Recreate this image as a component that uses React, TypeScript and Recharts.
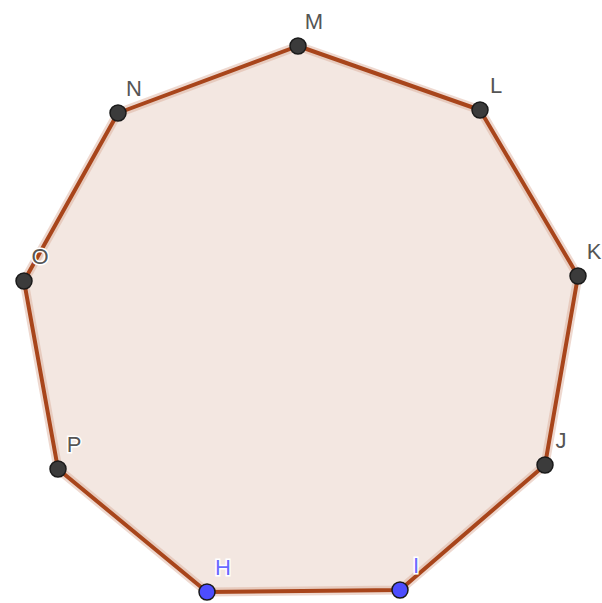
import React from 'react';
import { ScatterChart, Scatter, XAxis, YAxis } from 'recharts';

const names = ['H', 'I', 'J', 'K', 'L', 'M', 'N', 'O', 'P'];
const xs = [207, 400, 545, 578, 480, 298, 118, 24, 58];
const ys = [592, 590, 465, 276, 110, 46, 113, 281, 469];
const freePoints = ['H', 'I'];

const vertices = names.map((name, i) => ({ name, x: xs[i], y: ys[i] }));
const outline = [...vertices, vertices[0]];
const bluePts = vertices.filter((v) => freePoints.includes(v.name));
const darkPts = vertices.filter((v) => !freePoints.includes(v.name));

const Empty = () => <g />;

const makeShape = (fill: string, labelColor: string) => (props: any) => {
  const { cx, cy, payload } = props;
  return (
    <g>
      <circle cx={cx} cy={cy} r={8} fill={fill} stroke="#1a1a1a" strokeWidth={1.5} />
      <text
        x={cx + 16}
        y={cy - 25}
        textAnchor="middle"
        dominantBaseline="central"
        fontFamily="Liberation Sans, Arial, sans-serif"
        fontSize={22}
        fill={labelColor}
        stroke="#fff"
        strokeWidth={3}
        paintOrder="stroke"
      >
        {payload.name}
      </text>
    </g>
  );
};

const App: React.FC = () => {
  return (
    <div style={{ position: 'absolute', left: 0, top: 0 }}>
      <ScatterChart width={602} height={603} margin={{ top: 0, right: 0, bottom: 0, left: 0 }}>
        <XAxis type="number" dataKey="x" domain={[0, 602]} hide />
        <YAxis type="number" dataKey="y" domain={[0, 603]} reversed hide />
        <Scatter
          data={outline}
          line={{ stroke: '#d9a994', strokeWidth: 9, strokeOpacity: 0.45, fill: '#f3e7e1' }}
          shape={Empty}
          isAnimationActive={false}
        />
        <Scatter
          data={outline}
          line={{ stroke: '#a8451b', strokeWidth: 4, fill: 'none', strokeLinejoin: 'round' }}
          shape={Empty}
          isAnimationActive={false}
        />
        <Scatter data={darkPts} shape={makeShape('#3b3b3b', '#555555')} isAnimationActive={false} />
        <Scatter data={bluePts} shape={makeShape('#4d4dff', '#6a6aff')} isAnimationActive={false} />
      </ScatterChart>
    </div>
  );
};

export default App;
